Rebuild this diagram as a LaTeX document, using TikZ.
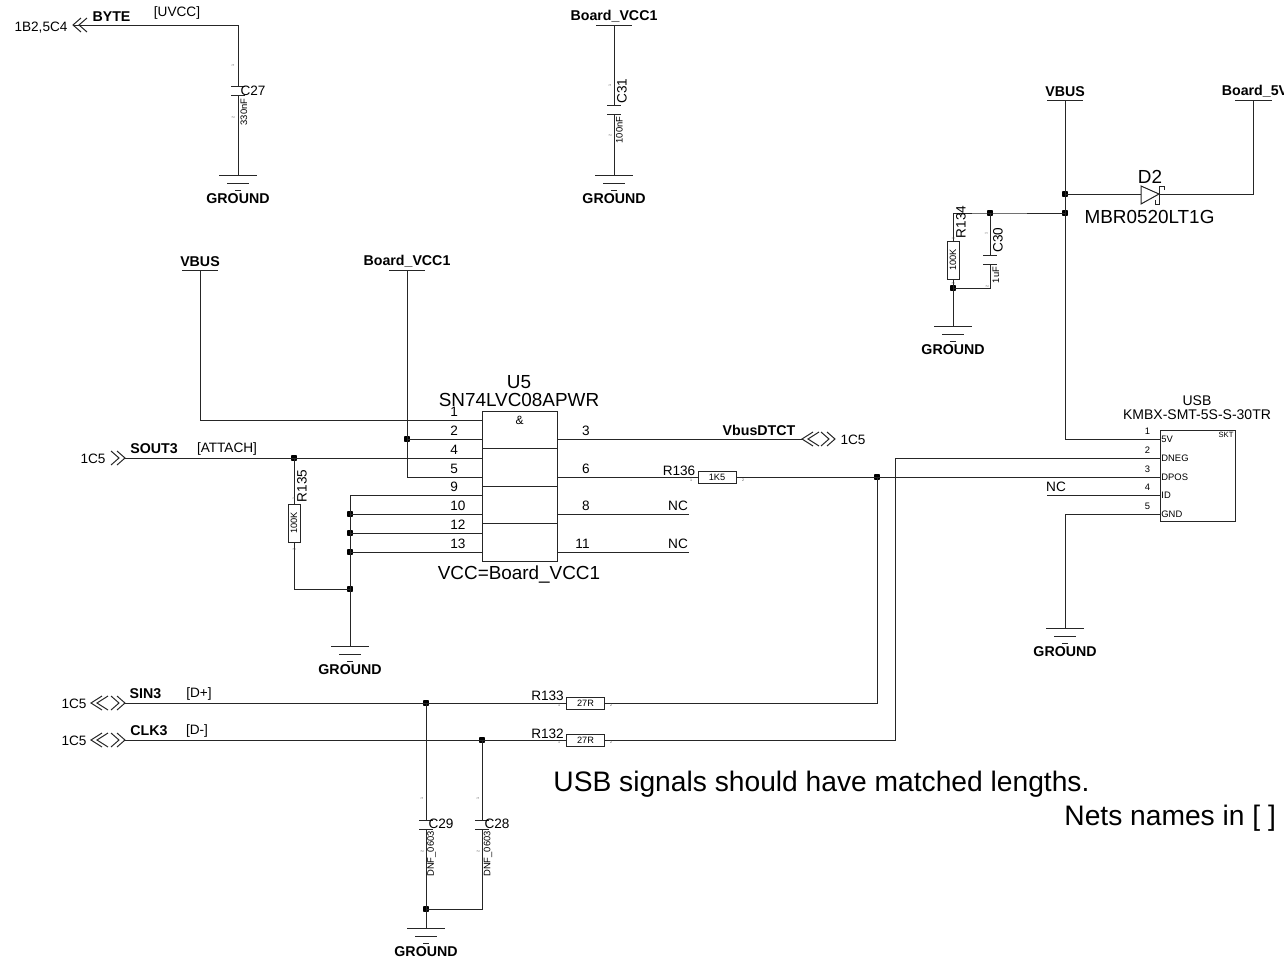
\documentclass[tikz,border=0pt]{standalone}
\usepackage{fontspec}
\setmainfont{Liberation Sans}
\usetikzlibrary{calc}
\newcommand{\fs}[1]{\fontsize{#1}{#1}\selectfont}
\tikzset{
  x=0.5pt,y=-0.5pt,
  wire/.style={line width=0.5pt,color=black!85},
  netlabel/.style={inner sep=0pt,yshift=-0.5pt,font=\fs{7.1}\bfseries},
  txt/.style={inner sep=0pt,yshift=-0.5pt,font=\fs{6.8}},
  vtxt/.style={inner sep=0pt,font=\fs{6.8}},
  big/.style={inner sep=0pt,font=\fs{9.45}},
  note/.style={inner sep=0pt,yshift=-1pt,font=\fs{14.1}},
  small/.style={inner sep=0pt,font=\fs{4.7}},
  tinypin/.style={inner sep=0pt,font=\fs{1.8},color=black!70},
  junction/.style={fill=black,rounded corners=0.2pt,inner sep=0pt,minimum size=2.8pt},
  res/.style={draw=black!85,line width=0.5pt,fill=white,inner sep=0pt,minimum width=19pt,minimum height=6pt,font=\fs{4.6}},
  chip/.style={draw=black!85,line width=0.5pt,inner sep=0pt}
}
\begin{document}
\begin{tikzpicture}
\useasboundingbox (0,0) rectangle (1284,959);
\foreach \n/\x/\y in {a/238/175,b/614/175,c/953/326,d/350/646,e/1065/628,f/426/928}{
  \coordinate (gnd\n) at (\x,\y);
  \draw[wire] (\x-19,\y)--(\x+19,\y);
  \draw[wire] (\x-11,\y+8)--(\x+11,\y+8);
  \draw[wire] (\x-3,\y+15)--(\x+3,\y+15);
  \node[netlabel] (gnd\n txt) at (\x,\y+23) {GROUND};
}
\foreach \n/\t/\x/\y in {vbusa/VBUS/1065/100,vbusb/VBUS/200/270,vcca/Board\_VCC1/614/25,vccb/Board\_VCC1/407/270}{
  \coordinate (\n) at (\x,\y);
  \draw[wire] (\x-18,\y)--(\x+18,\y);
  \node[netlabel] (\n txt) at (\x,\y-9.5) {\t};
}
\coordinate (board5v) at (1253,100);
\draw[wire] (1235,100)--(1272,100);
\node[netlabel] (board5vtxt) at (1255,90.5) {Board\_5V};
\foreach \n/\x/\y in {cta/238/86,ctb/614/105,ctc/990/255,ctd/426/820,cte/482/820}{
  \coordinate (\n) at (\x,\y);
  \coordinate (\n2) at (\x,\y+9.5);
  \draw[wire] (\x-7,\y)--(\x+7,\y);
  \draw[wire] (\x-7,\y+9.5)--(\x+7,\y+9.5);
}
\foreach \n/\x/\y in {dtop/1065/194,dmid/1065/213,dcap/990/213,dbot/953/288,dvcc/407/439,dsout/294/458,dg1/350/514,dg2/350/533,dg3/350/552,dg4/350/589,dsin/426/703,dclk/482/740,ddp/877/477,dgnd/426/909}{
  \node[junction] (\n) at (\x,\y) {};
}
\foreach \a/\y/\d/\w in {73/25/1/8,125/458/-1/8,91/703/1/11,125/703/-1/8,91/740/1/11,125/740/-1/8,802/439/1/11,835/439/-1/8}{
  \draw[wire] (\a+\w*\d,\y-7)--(\a,\y)--(\a+\w*\d,\y+7);
  \draw[wire] (\a+6*\d+\w*\d,\y-7)--(\a+6*\d,\y)--(\a+6*\d+\w*\d,\y+7);
}
\coordinate (byteport) at (73,25);
\coordinate (soutport) at (125,458);
\coordinate (sinport) at (125,703);
\coordinate (clkport) at (125,740);
\coordinate (dtctport) at (802,439);

\node[res,rotate=90] (r134) at (953,260) {100K};
\node[res,rotate=90] (r135) at (294,523) {100K};
\node[res] (r136) at (717,477) {1K5};
\node[res] (r133) at (585.5,703) {27R};
\node[res] (r132) at (585.5,740) {27R};

\node[chip,minimum width=37.5pt,minimum height=75pt] (u5) at (520,486) {};
\draw[wire] (483,448)--(557,448);
\draw[wire] (483,486)--(557,486);
\draw[wire] (483,523)--(557,523);
\foreach \n/\y in {1/420,2/439,4/458,5/477,9/495,10/514,12/533,13/552}{
  \coordinate (up\n) at (483,\y);
  \node[txt,anchor=west] (un\n) at (450,\y-9) {\n};
}
\foreach \n/\y in {3/439,6/477,8/514,11/552}{
  \coordinate (up\n) at (557,\y);
  \node[txt,anchor=east] (un\n) at (590,\y-9) {\n};
}
\coordinate (nca) at (689,514);
\coordinate (ncb) at (689,552);

\node[chip,minimum width=37.5pt,minimum height=45.5pt] (usb) at (1197.5,475.5) {};
\foreach \n/\t/\y in {1/5V/439,2/DNEG/458,3/DPOS/477,4/ID/495,5/GND/514}{
  \coordinate (sp\n) at (1160,\y);
  \node[small,anchor=west] (st\n) at (1161,\y) {\t};
  \node[small,anchor=east] (sn\n) at (1150.5,\y-8) {\n};
}
\coordinate (ncc) at (1047,495);

\draw[wire] (byteport) -| (cta);
\draw[wire] (cta2) -- (gnda);
\draw[wire] (vcca) -- (ctb);
\draw[wire] (ctb2) -- (gndb);
\draw[wire] (vbusa) |- (sp1);
\draw[wire] (dtop.center) -- (1141,194);
\draw[wire] (1159,194) -- (1253,194) -- (board5v);
\draw[wire] (1141,186) -- (1159,194) -- (1141,204) -- cycle;
\draw[wire] (1164,190) -- (1164,186) -- (1159,186) -- (1159,204) -- (1155,204) -- (1155,200);
\draw[wire] (dmid.center) -- (dcap.center) -- (953,213) -- (r134.east);
\draw[wire] (dcap.center) -- (ctc);
\draw[wire] (r134.west) -- (dbot.center);
\draw[wire] (ctc2) |- (dbot.center);
\draw[wire] (dbot.center) -- (gndc);
\draw[wire] (vbusb) |- (up1);
\draw[wire] (vccb) |- (up5);
\draw[wire] (dvcc.center) -- (up2);
\draw[wire] (soutport) -- (up4);
\draw[wire] (dsout.center) -- (r135.east);
\draw[wire] (r135.west) |- (dg4.center);
\draw[wire] (up9) -| (gndd);
\draw[wire] (dg1.center) -- (up10);
\draw[wire] (dg2.center) -- (up12);
\draw[wire] (dg3.center) -- (up13);
\draw[wire] (up3) -- (dtctport);
\draw[wire] (up6) -- (r136.west);
\draw[wire] (r136.east) -- (sp3);
\draw[wire] (up8) -- (nca);
\draw[wire] (up11) -- (ncb);
\draw[wire] (ncc) -- (sp4);
\draw[wire] (sp5) -| (gnde);
\draw[wire] (sinport) -- (r133.west);
\draw[wire] (r133.east) -| (ddp.center);
\draw[wire] (clkport) -- (r132.west);
\draw[wire] (r132.east) -| (895,458) -- (sp2);
\draw[wire] (dsin.center) -- (ctd);
\draw[wire] (dclk.center) -- (cte);
\draw[wire] (ctd2) -- (gndf);
\draw[wire] (cte2) |- (dgnd.center);

\node[netlabel] (bytetxt) at (111.5,16) {BYTE};
\node[txt] (uvcc) at (177,11.5) {[UVCC]};
\node[txt] (byteref) at (41,26.5) {1B2,5C4};
\node[txt] (c27) at (253,89.5) {C27};
\node[small,rotate=90] (v27) at (244,112) {330nF};
\node[vtxt,rotate=90] (c31) at (622,91) {C31};
\node[small,rotate=90] (v31) at (619.5,130) {100nF};
\node[big] (d2) at (1150,177) {D2};
\node[big] (d2v) at (1149.5,217) {MBR0520LT1G};
\node[vtxt,rotate=90] (r134n) at (961,222) {R134};
\node[vtxt,rotate=90] (c30) at (998,240) {C30};
\node[small,rotate=90] (v30) at (996,275) {1uF};
\node[big] (u5n) at (519,382) {U5};
\node[big] (u5v) at (519,400) {SN74LVC08APWR};
\node[inner sep=0pt,font=\fs{6}] (u5a) at (519.5,420) {\&};
\node[big] (u5c) at (519,574.5) {VCC=Board\_VCC1};
\node[netlabel] (dtct) at (759,429) {VbusDTCT};
\node[txt] (dtctref) at (853,438.5) {1C5};
\node[txt] (soutref) at (93,457.5) {1C5};
\node[netlabel] (sout) at (154,448) {SOUT3};
\node[txt] (attach) at (227,448) {[ATTACH]};
\node[vtxt,rotate=90] (r135n) at (302,486) {R135};
\node[txt] (r136n) at (679,469.5) {R136};
\node[txt] (ncat) at (678,504.5) {NC};
\node[txt] (ncbt) at (678,542.5) {NC};
\node[txt] (ncct) at (1056,485.5) {NC};
\node[inner sep=0pt,font=\fs{7}] (usbn) at (1197,401) {USB};
\node[inner sep=0pt,font=\fs{7}] (usbv) at (1197,415) {KMBX-SMT-5S-S-30TR};
\node[inner sep=0pt,font=\fs{3.8}] (skt) at (1226,434.5) {SKT};
\node[txt] (sinref) at (74,702.5) {1C5};
\node[netlabel] (sin) at (145.5,693) {SIN3};
\node[txt] (dp) at (199,693) {[D+]};
\node[txt] (clkref) at (74,739.5) {1C5};
\node[netlabel] (clk) at (149,730) {CLK3};
\node[txt] (dm) at (197,730) {[D-]};
\node[txt] (r133n) at (547.5,694.5) {R133};
\node[txt] (r132n) at (547.5,732.5) {R132};
\node[txt] (c29) at (441,822.5) {C29};
\node[txt] (c28) at (497,822.5) {C28};
\node[small,rotate=90] (v29) at (431.5,854) {DNF\_0603};
\node[small,rotate=90] (v28) at (488,854) {DNF\_0603};
\node[note,anchor=west] (n1) at (553,782) {USB signals should have matched lengths.};
\node[note,anchor=west] (n2) at (1064,816) {Nets names in [ ]};

\foreach \x/\y/\t [count=\i] in {233/65/1,233/117/2,610/85/1,610/135/2,953/238/1,953/283/2,986/233/1,987/286/2,294/498/1,294/549/2,422/798/1,422/851/2,478/798/1,478/851/2}{
  \node[tinypin,rotate=90] (tp\i) at (\x,\y) {\t};
}
\foreach \x/\y/\t [count=\i] in {691/480/1,743/480/2,559/705/1,611/705/2,559/742/1,611/742/2}{
  \node[tinypin] (th\i) at (\x,\y) {\t};
}
\end{tikzpicture}
\end{document}
